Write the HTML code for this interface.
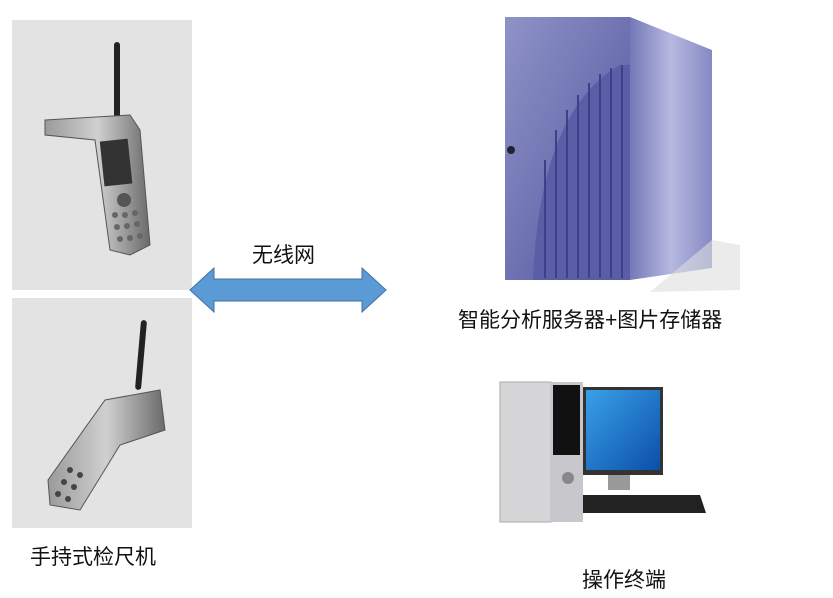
<!DOCTYPE html>
<html><head><meta charset="utf-8"><style>
body{margin:0;width:833px;height:598px;background:#fff;position:relative;overflow:hidden;font-family:"Liberation Sans","Noto Sans CJK SC",sans-serif;}
.t{position:absolute;font-size:21px;color:#111;white-space:nowrap;line-height:24px;}
</style></head><body>
<svg width="833" height="598" style="position:absolute;left:0;top:0">
<defs>
<linearGradient id="sf" x1="0" y1="0" x2="1" y2="1"><stop offset="0" stop-color="#8f93c8"/><stop offset="1" stop-color="#4f539a"/></linearGradient>
<linearGradient id="ss" x1="0" y1="0" x2="1" y2="0"><stop offset="0" stop-color="#7478b6"/><stop offset="0.5" stop-color="#b6b9e0"/><stop offset="1" stop-color="#8589c4"/></linearGradient>
<linearGradient id="mon" x1="0" y1="0" x2="1" y2="1"><stop offset="0" stop-color="#3aa0e8"/><stop offset="1" stop-color="#0b4fa8"/></linearGradient>
<linearGradient id="dev" x1="0" y1="0" x2="1" y2="0"><stop offset="0" stop-color="#9a9a9a"/><stop offset="0.5" stop-color="#d0d0d0"/><stop offset="1" stop-color="#6a6a6a"/></linearGradient>
</defs>
<rect x="12" y="20" width="180" height="270" fill="#e3e3e3"/>
<rect x="12" y="298" width="180" height="230" fill="#e3e3e3"/>
<rect x="114" y="42" width="6" height="80" rx="3" fill="#222"/>
<path d="M45 120 L130 115 L140 130 L150 245 L130 255 L110 250 L95 140 L45 135 Z" fill="url(#dev)" stroke="#555"/>
<rect x="102" y="140" width="28" height="45" fill="#333" transform="rotate(-6 116 162)"/>
<circle cx="124" cy="200" r="7" fill="#555"/>
<g fill="#666"><circle cx="115" cy="215" r="3"/><circle cx="125" cy="215" r="3"/><circle cx="135" cy="213" r="3"/><circle cx="117" cy="227" r="3"/><circle cx="127" cy="226" r="3"/><circle cx="137" cy="224" r="3"/><circle cx="120" cy="239" r="3"/><circle cx="130" cy="238" r="3"/><circle cx="140" cy="236" r="3"/></g>
<rect x="138" y="320" width="6" height="70" rx="3" fill="#222" transform="rotate(5 141 355)"/>
<path d="M105 400 L160 390 L165 430 L120 445 L80 510 L50 505 L48 480 Z" fill="url(#dev)" stroke="#555"/>
<g fill="#444"><circle cx="70" cy="470" r="3"/><circle cx="64" cy="482" r="3"/><circle cx="58" cy="494" r="3"/><circle cx="80" cy="475" r="3"/><circle cx="74" cy="487" r="3"/><circle cx="68" cy="499" r="3"/></g>
<path d="M190 290 L214 268 L214 279 L362 279 L362 268 L386 290 L362 312 L362 301 L214 301 L214 312 Z" fill="#5b9bd5" stroke="#41719c" stroke-width="1"/>
<path d="M630 17 L712 50 L712 268 L630 280 Z" fill="url(#ss)"/>
<rect x="505" y="17" width="125" height="263" fill="url(#sf)"/>
<path d="M533 280 Q540 110 620 65 L630 65 L630 280 Z" fill="#5a5ea6"/>
<g stroke="#3d4088" stroke-width="2">
<line x1="545" y1="160" x2="545" y2="278"/><line x1="556" y1="130" x2="556" y2="278"/><line x1="567" y1="110" x2="567" y2="278"/><line x1="578" y1="95" x2="578" y2="278"/><line x1="589" y1="83" x2="589" y2="278"/><line x1="600" y1="74" x2="600" y2="278"/><line x1="611" y1="68" x2="611" y2="278"/><line x1="622" y1="65" x2="622" y2="278"/></g>
<circle cx="511" cy="150" r="4" fill="#223"/>
<path d="M712 240 L740 245 L740 290 L650 292 Z" fill="#ddd" opacity="0.6"/>
<rect x="500" y="382" width="52" height="140" fill="#d6d6d8" stroke="#aaa"/>
<rect x="550" y="382" width="33" height="140" fill="#c8c8cc"/>
<rect x="553" y="385" width="27" height="70" fill="#111"/>
<circle cx="568" cy="478" r="6" fill="#888"/>
<rect x="583" y="387" width="80" height="88" fill="#333"/>
<rect x="586" y="390" width="74" height="80" fill="url(#mon)"/>
<rect x="608" y="475" width="22" height="15" fill="#999"/>
<path d="M583 495 L700 495 L706 513 L583 513 Z" fill="#222"/>
</svg>
<div class="t" style="left:252px;top:244px">无线网</div>
<div class="t" style="left:458px;top:309px">智能分析服务器+图片存储器</div>
<div class="t" style="left:30px;top:546px">手持式检尺机</div>
<div class="t" style="left:582px;top:569px">操作终端</div>
</body></html>
